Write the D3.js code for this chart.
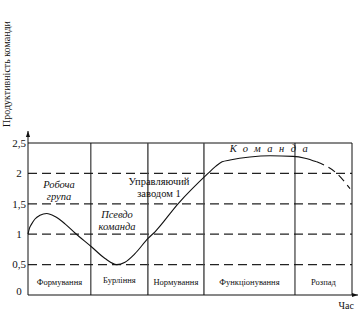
<!DOCTYPE html>
<html><head><meta charset="utf-8">
<script src="https://cdn.jsdelivr.net/npm/d3@7"></script>
<style>body{margin:0;background:#fff}svg{display:block}</style>
</head><body>
<script>
const yTicks = [0, 0.5, 1, 1.5, 2, 2.5];
const gridValues = [0.5, 1, 1.5, 2];
const stageBounds = [0, 19.4, 37, 54.3, 82.4, 100];
const stageNames = ["Формування", "Бурління", "Нормування", "Функціонування", "Розпад"];
const curveX = [0, 0.46, 1.14, 2.16, 3.7, 5.77, 8.33, 11.42, 14.5, 19.66, 23.77, 27.38, 29.94, 33.02, 37.04, 39.2, 46.3, 55.56, 58.0, 59.9, 62.35, 68.5, 74.7, 81.8, 85.5, 89.1];
const curveY = [1.0, 1.1, 1.17, 1.25, 1.31, 1.34, 1.29, 1.17, 1.02, 0.79, 0.6, 0.5, 0.54, 0.68, 0.93, 1.04, 1.5, 2.0, 2.12, 2.19, 2.22, 2.27, 2.29, 2.28, 2.25, 2.19];
const fadeX = [89.1, 95.3, 99.4];
const fadeY = [2.19, 2.0, 1.75];

const FONT = "'Liberation Serif', 'Times New Roman', serif";
const W = 359, H = 313;
const svg = d3.select("body").append("svg").attr("width", W).attr("height", H)
  .attr("font-family", FONT);
const x = d3.scaleLinear().domain([0, 100]).range([28, 352]);
const y = d3.scaleLinear().domain([0, 2.5]).range([295, 143]);

const defs = svg.append("defs");
defs.append("marker").attr("id","arr").attr("viewBox","0 0 10 10").attr("refX",10).attr("refY",5)
  .attr("markerWidth",6).attr("markerHeight",6).attr("orient","auto")
  .append("path").attr("d","M0,1.5 L10,5 L0,8.5 Z").attr("fill","#111");

svg.selectAll(".grid").data(gridValues).enter().append("line")
  .attr("x1", x(0)).attr("x2", x(100)).attr("y1", d => y(d)).attr("y2", d => y(d))
  .attr("stroke", "#222").attr("stroke-width", 1.2).attr("stroke-dasharray", "9,5");

svg.append("line").attr("x1", x(0)).attr("x2", x(100)).attr("y1", y(2.5)).attr("y2", y(2.5)).attr("stroke","#111").attr("stroke-width",1);
svg.selectAll(".div").data(stageBounds.slice(1)).enter().append("line")
  .attr("x1", d => x(d)).attr("x2", d => x(d)).attr("y1", y(2.5)).attr("y2", y(0))
  .attr("stroke", (d,i) => (i===1||i===2) ? "#444" : "#111").attr("stroke-width", (d,i) => (i===1||i===2) ? 1.4 : 1);

svg.append("line").attr("x1", x(0)).attr("x2", x(0)).attr("y1", y(0)).attr("y2", 131)
  .attr("stroke","#111").attr("stroke-width",1).attr("marker-end","url(#arr)");
svg.append("line").attr("x1", x(0)).attr("x2", 358).attr("y1", y(0)).attr("y2", y(0))
  .attr("stroke","#111").attr("stroke-width",1).attr("marker-end","url(#arr)");

svg.selectAll(".tick").data(yTicks).enter().append("text")
  .attr("font-family", FONT).attr("fill", "#111")
  .attr("x", 19).attr("y", d => d === 0 ? y(d) - 4 : y(d)).attr("dy", "0.35em")
  .attr("text-anchor", "middle").attr("font-size", 11)
  .text(d => String(d).replace(".", ","));

const line = d3.line().x(d => x(d[0])).y(d => y(d[1])).curve(d3.curveMonotoneX);
svg.append("path").datum(curveX.map((v,i) => [v, curveY[i]]))
  .attr("d", line).attr("fill","none").attr("stroke","#111").attr("stroke-width",1.1);
svg.append("path").datum(fadeX.map((v,i) => [v, fadeY[i]]))
  .attr("d", line).attr("fill","none").attr("stroke","#111").attr("stroke-width",1.1).attr("stroke-dasharray","8,5");

svg.selectAll(".stage").data(stageNames).enter().append("text")
  .attr("font-family", FONT).attr("fill", "#111")
  .attr("x", (d,i) => (x(stageBounds[i]) + x(stageBounds[i+1]))/2)
  .attr("y", (d,i) => i === 1 ? 283 : 285)
  .attr("text-anchor","middle").attr("font-size", 8.5).text(d => d);

function multi(lines, cx, ys, italic, size) {
  lines.forEach((t,i) => svg.append("text").attr("font-family", FONT).attr("fill", "#111")
    .attr("x", cx).attr("y", ys[i]).attr("text-anchor","middle")
    .attr("font-size", size).attr("font-style", italic ? "italic" : "normal").text(t));
}
multi(["Робоча", "група"], 59, [188, 200], true, 10.5);
multi(["Псевдо", "команда"], 117, [218, 230], true, 10.5);
multi(["Управляючий", "заводом 1"], 159, [185, 197], false, 10.5);
svg.append("text").attr("font-family", FONT).attr("fill", "#111").attr("x", 272).attr("y", 152).attr("text-anchor","middle")
  .attr("font-size", 10.5).attr("font-style","italic").attr("letter-spacing", "6.5px").text("Команда");

svg.append("text").attr("font-family", FONT).attr("fill", "#111")
  .attr("transform", "translate(10,74) rotate(-90)").attr("text-anchor","middle")
  .attr("font-size", 10).text("Продуктивність команди");
svg.append("text").attr("font-family", FONT).attr("fill", "#111")
  .attr("x", 354).attr("y", 309).attr("text-anchor","end").attr("font-size", 10).text("Час");
</script>
</body></html>
